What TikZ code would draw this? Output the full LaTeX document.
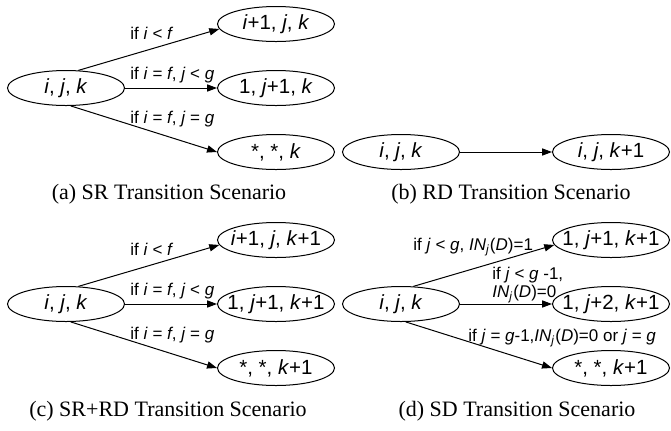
\documentclass[tikz,border=0pt]{standalone}
\usepackage{fontspec}
\setmainfont{Liberation Sans}
\newfontfamily\capfont{Liberation Serif}
\usetikzlibrary{arrows.meta,shapes.geometric}

% italic variable names inside the states and conditions
\newcommand{\itv}[1]{\textit{#1}}

\tikzset{
	stnode/.style={ellipse, draw, line width=0.5pt,
		minimum width=58.5pt, minimum height=17.5pt,
		inner xsep=-4pt, inner ysep=0pt,
		font=\fontsize{10.25}{12}\selectfont},
	trans/.style={-{Triangle[length=5pt,width=3.6pt]}, line width=0.5pt},
	cond/.style={inner sep=0pt, anchor=base west,
		font=\fontsize{8.5}{10}\selectfont},
	subcap/.style={inner sep=0pt, font=\capfont\fontsize{11}{13}\selectfont}
}

\begin{document}
\begin{tikzpicture}[x=0.5pt,y=-0.5pt]
	%% units are picture pixels, y going down
	\useasboundingbox (0,0) rectangle (671,430);

	%% (a) SR transitions
	\begin{scope}
		\node[stnode] (A0) at (66,88) {\itv{i}, \itv{j}, \itv{k}};
		\node[stnode] (A1) at (276,24) {\itv{i}+1, \itv{j}, \itv{k}};
		\node[stnode] (A2) at (276,88) {1, \itv{j}+1, \itv{k}};
		\node[stnode] (A3) at (276,152) {*, *, \itv{k}};

		\draw[trans] (A0.55) -- (A1.185);
		\draw[trans] (A0.east) -- (A2.west);
		\draw[trans] (A0.-75) -- (A3.west);

		\node[cond] (Ac1) at (130,39) {if \itv{i} < \itv{f}};
		\node[cond] (Ac2) at (130,79) {if \itv{i} = \itv{f}, \itv{j} < \itv{g}};
		\node[cond] (Ac3) at (130,123) {if \itv{i} = \itv{f}, \itv{j} = \itv{g}};

		\node[subcap] (Acap) at (169,194) {(a) SR Transition Scenario};
	\end{scope}

	%% (b) RD transition
	\begin{scope}[shift={(335,0)}]
		\node[stnode] (B0) at (66,152) {\itv{i}, \itv{j}, \itv{k}};
		\node[stnode] (B1) at (276,152) {\itv{i}, \itv{j}, \itv{k}+1};

		\draw[trans] (B0.east) -- (B1.west);

		\node[subcap] (Bcap) at (176,194) {(b) RD Transition Scenario};
	\end{scope}

	%% (c) SR+RD transitions
	\begin{scope}[shift={(0,216)}]
		\node[stnode] (C0) at (66,88) {\itv{i}, \itv{j}, \itv{k}};
		\node[stnode] (C1) at (276,24) {\itv{i}+1, \itv{j}, \itv{k}+1};
		\node[stnode] (C2) at (276,88) {1, \itv{j}+1, \itv{k}+1};
		\node[stnode] (C3) at (276,152) {*, *, \itv{k}+1};

		\draw[trans] (C0.55) -- (C1.185);
		\draw[trans] (C0.east) -- (C2.west);
		\draw[trans] (C0.-75) -- (C3.west);

		\node[cond] (Cc1) at (130,39) {if \itv{i} < \itv{f}};
		\node[cond] (Cc2) at (130,79) {if \itv{i} = \itv{f}, \itv{j} < \itv{g}};
		\node[cond] (Cc3) at (130,123) {if \itv{i} = \itv{f}, \itv{j} = \itv{g}};

		\node[subcap] (Ccap) at (168,195) {(c) SR+RD Transition Scenario};
	\end{scope}

	%% (d) SD transitions
	\begin{scope}[shift={(335,216)}]
		\node[stnode] (D0) at (66,88) {\itv{i}, \itv{j}, \itv{k}};
		\node[stnode] (D1) at (276,24) {1, \itv{j}+1, \itv{k}+1};
		\node[stnode] (D2) at (276,88) {1, \itv{j}+2, \itv{k}+1};
		\node[stnode] (D3) at (276,152) {*, *, \itv{k}+1};

		\draw[trans] (D0.55) -- (D1.185);
		\draw[trans] (D0.east) -- (D2.west);
		\draw[trans] (D0.-75) -- (D3.west);

		\node[cond] (Dc1) at (78,34) {if \itv{j} < \itv{g}, \itv{IN}\textsubscript{\itv{j}}(\itv{D})=1};
		\node[cond] (Dc2) at (157,63) {if \itv{j} < \itv{g} -1,};
		\node[cond] (Dc3) at (157,81) {\itv{IN}\textsubscript{\itv{j}}(\itv{D})=0};
		\node[cond] (Dc4) at (133,125) {if \itv{j} = \itv{g}-1,\itv{IN}\textsubscript{\itv{j}}(\itv{D})=0 or \itv{j} = \itv{g}};

		\node[subcap] (Dcap) at (182,195) {(d) SD Transition Scenario};
	\end{scope}
\end{tikzpicture}
\end{document}
